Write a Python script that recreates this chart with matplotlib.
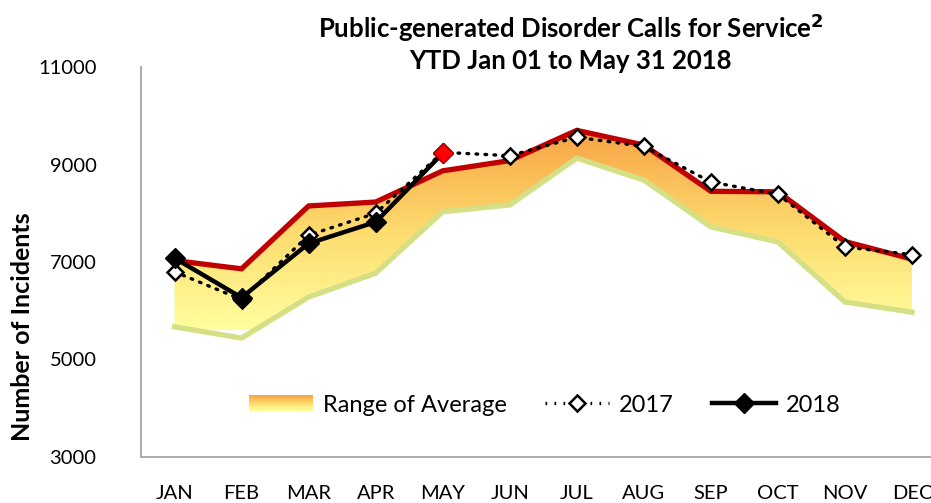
import numpy as np
import matplotlib
matplotlib.use('Agg')
import matplotlib.pyplot as plt
from matplotlib.colors import LinearSegmentedColormap
from matplotlib.legend_handler import HandlerBase
from matplotlib.patches import Rectangle, Patch
from matplotlib.lines import Line2D

months = ['JAN', 'FEB', 'MAR', 'APR', 'MAY', 'JUN', 'JUL', 'AUG', 'SEP', 'OCT', 'NOV', 'DEC']
avg_high = [7030, 6860, 8150, 8230, 8870, 9080, 9700, 9400, 8450, 8440, 7420, 7060]
avg_low = [5670, 5440, 6280, 6770, 8030, 8170, 9130, 8680, 7720, 7410, 6180, 5970]
y2017 = [6800, 6230, 7550, 8000, 9250, 9180, 9560, 9370, 8640, 8390, 7310, 7150]
y2018 = [7080, 6270, 7380, 7820, 9230]

plt.rcParams['font.family'] = ['Lato', 'DejaVu Sans']

grad = LinearSegmentedColormap.from_list('rng', ['#FFFF9E', '#FDDB6E', '#F8A446'])


class GradientHandler(HandlerBase):
    def create_artists(self, legend, orig_handle, xdescent, ydescent, width, height, fontsize, trans):
        arts = []
        n = 12
        for i in range(n):
            r = Rectangle((xdescent, ydescent + height * i / n), width, height / n + 0.3,
                          facecolor=grad(i / (n - 1)), edgecolor='none', transform=trans)
            arts.append(r)
        return arts


fig = plt.figure(figsize=(9.31, 5.03), dpi=100)
ax = fig.add_axes([141 / 931, 46 / 503, 804.5 / 931, 390 / 503])

x = np.arange(len(months))

# gradient fill between the average bounds
poly = ax.fill_between(x, avg_low, avg_high, facecolor='none', edgecolor='none')
img = ax.imshow(np.linspace(0, 1, 256).reshape(-1, 1), cmap=grad, origin='lower',
                extent=[-0.5, 11.5, 5600, 9700], aspect='auto', zorder=1)
img.set_clip_path(poly.get_paths()[0], transform=ax.transData)

ax.plot(x, avg_high, color='#C00000', lw=3.8, zorder=2, solid_joinstyle='miter')
ax.plot(x, avg_low, color='#D5DF86', lw=3.8, zorder=2, solid_joinstyle='miter')

ax.plot(x, y2017, color='black', lw=2.4, ls=(0, (0.5, 2.2)), dash_capstyle='round',
        marker='D', ms=8.5, mfc='white', mec='black', mew=1.8, zorder=3)
x18 = x[:len(y2018)]
ax.plot(x18, y2018, color='black', lw=3.2, marker='D', ms=10.5, mfc='black', mec='black', zorder=4)
ax.plot(x18[-1:], y2018[-1:], ls='none', marker='D', ms=10.5, mfc='#FF0000', mec='#B00000', mew=1, zorder=5)

ax.set_xlim(-0.5, 11.5)
ax.set_ylim(3000, 11000)
ax.set_yticks([3000, 5000, 7000, 9000, 11000])
ax.set_xticks(x)
ax.set_xticklabels(months)
ax.tick_params(axis='both', length=0, labelsize=14.5)
ax.tick_params(axis='x', pad=20)
ax.tick_params(axis='y', pad=32)
for s in ['top', 'right']:
    ax.spines[s].set_visible(False)
for s in ['left', 'bottom']:
    ax.spines[s].set_color('#A6A6A6')
    ax.spines[s].set_linewidth(1.3)

handles = [Patch(),
           Line2D([], [], color='black', lw=2.4, ls=(0, (0.5, 2.2)), marker='D', ms=8.5,
                  mfc='white', mec='black', mew=1.8),
           Line2D([], [], color='black', lw=3.2, marker='D', ms=10.5, mfc='black')]
ax.legend(handles, ['Range of Average', '2017', '2018'], loc='center', bbox_to_anchor=(0.502, 0.133),
          ncol=3, frameon=False, fontsize=17, handlelength=2.7, handletextpad=0.45, columnspacing=1.6,
          handler_map={Patch: GradientHandler()})

fig.text(0.613, 0.945, 'Public-generated Disorder Calls for Service$^{\\mathbf{2}}$', ha='center', va='center',
         fontsize=18.5, fontweight='bold')
fig.text(0.613, 0.878, 'YTD Jan 01 to May 31 2018', ha='center', va='center',
         fontsize=18.5, fontweight='bold')
fig.text(0.024, 0.35, 'Number of Incidents', rotation=90, ha='center', va='center',
         fontsize=18, fontweight='bold')

fig.savefig('out.png', dpi=100)
